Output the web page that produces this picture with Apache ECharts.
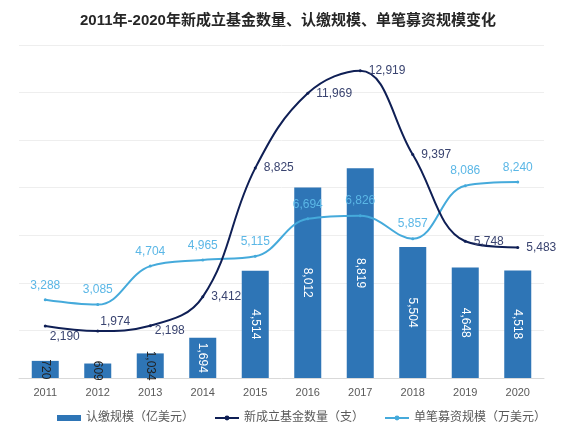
<!DOCTYPE html>
<html lang="zh">

<head>
    <meta charset="UTF-8">
    <title>新成立基金数量、认缴规模、单笔募资规模</title>
    <style>
        html, body { margin: 0; padding: 0; background: #fff; }
        #chart { width: 580px; height: 436px; }
    </style>
</head>

<body>
    <div id="chart"></div>

    <script src="https://cdn.jsdelivr.net/npm/echarts@6/dist/echarts.min.js"></script>
    <script>
        const years = ['2011', '2012', '2013', '2014', '2015', '2016', '2017', '2018', '2019', '2020']
        // 认缴规模（亿美元）
        const scale = [720, 609, 1034, 1694, 4514, 8012, 8819, 5504, 4648, 4518]
        // 新成立基金数量（支）
        const fundCount = [2190, 1974, 2198, 3412, 8825, 11969, 12919, 9397, 5748, 5483]
        // 单笔募资规模（万美元）
        const perDeal = [3288, 3085, 4704, 4965, 5115, 6694, 6826, 5857, 8086, 8240]

        const font = 'Arial, "Liberation Sans", "Noto Sans CJK SC", sans-serif'
        const barColor = '#2E75B6'
        const navy = '#0F1F55'
        const sky = '#45AADB'

        const fmt = v => v.toLocaleString('en-US')

        const myChart = echarts.init(document.getElementById('chart'))

        // 小柱子的数字溢出柱外，用深色
        const barData = scale.map((v, i) => ({
            value: v,
            label: v < 1500 ? { color: '#222' } : undefined
        }))

        // 数量折线标签大多在点右侧，前几个略上下偏
        const countOffsets = [[-4, 11], [-6, -9], [-4, 5], [0, 0], [0, 0], [0, 0], [0, 0], [0, 0], [0, 0], [0, 0]]
        const countData = fundCount.map((v, i) => ({
            value: v,
            label: { offset: countOffsets[i] }
        }))

        const option = {
            animation: false,
            textStyle: { fontFamily: font },
            title: {
                text: '2011年-2020年新成立基金数量、认缴规模、单笔募资规模变化',
                left: 75,
                top: 8,
                textStyle: { fontSize: 15, fontWeight: 'bold', color: '#262626', fontFamily: font }
            },
            legend: {
                bottom: 7,
                left: 52,
                itemGap: 20,
                itemWidth: 24,
                itemHeight: 6,
                textStyle: { fontSize: 12, color: '#595959', fontFamily: font },
                data: [
                    { name: '认缴规模（亿美元）', icon: 'rect' },
                    { name: '新成立基金数量（支）' },
                    { name: '单笔募资规模（万美元）' }
                ]
            },
            grid: { left: 19, right: 36, top: 45, bottom: 58 },
            xAxis: {
                type: 'category',
                data: years,
                axisTick: { show: false },
                axisLine: { lineStyle: { color: '#d9d9d9' } },
                axisLabel: { color: '#595959', fontSize: 11, margin: 9 }
            },
            yAxis: {
                type: 'value',
                min: 0,
                max: 14000,
                interval: 2000,
                axisLabel: { show: false },
                axisLine: { show: false },
                axisTick: { show: false },
                splitLine: { lineStyle: { color: '#eeeeee' } }
            },
            series: [{
                name: '认缴规模（亿美元）',
                type: 'bar',
                data: barData,
                barWidth: 27,
                itemStyle: { color: barColor },
                z: 1,
                label: {
                    show: true,
                    position: 'inside',
                    rotate: -90,
                    color: '#fff',
                    fontSize: 12,
                    formatter: p => fmt(p.value)
                }
            }, {
                name: '新成立基金数量（支）',
                type: 'line',
                data: countData,
                smooth: 0.4,
                symbol: 'circle',
                symbolSize: 3,
                lineStyle: { color: navy, width: 2 },
                itemStyle: { color: navy },
                z: 3,
                label: {
                    show: true,
                    position: 'right',
                    distance: 7,
                    color: '#3a4470',
                    fontSize: 12,
                    formatter: p => fmt(p.value)
                }
            }, {
                name: '单笔募资规模（万美元）',
                type: 'line',
                data: perDeal,
                smooth: 0.4,
                symbol: 'circle',
                symbolSize: 3,
                lineStyle: { color: sky, width: 2 },
                itemStyle: { color: sky },
                z: 2,
                label: {
                    show: true,
                    position: 'top',
                    distance: 7,
                    color: '#5BB7E6',
                    fontSize: 12,
                    formatter: p => fmt(p.value)
                }
            }]
        }

        myChart.setOption(option)
    </script>
</body>

</html>
